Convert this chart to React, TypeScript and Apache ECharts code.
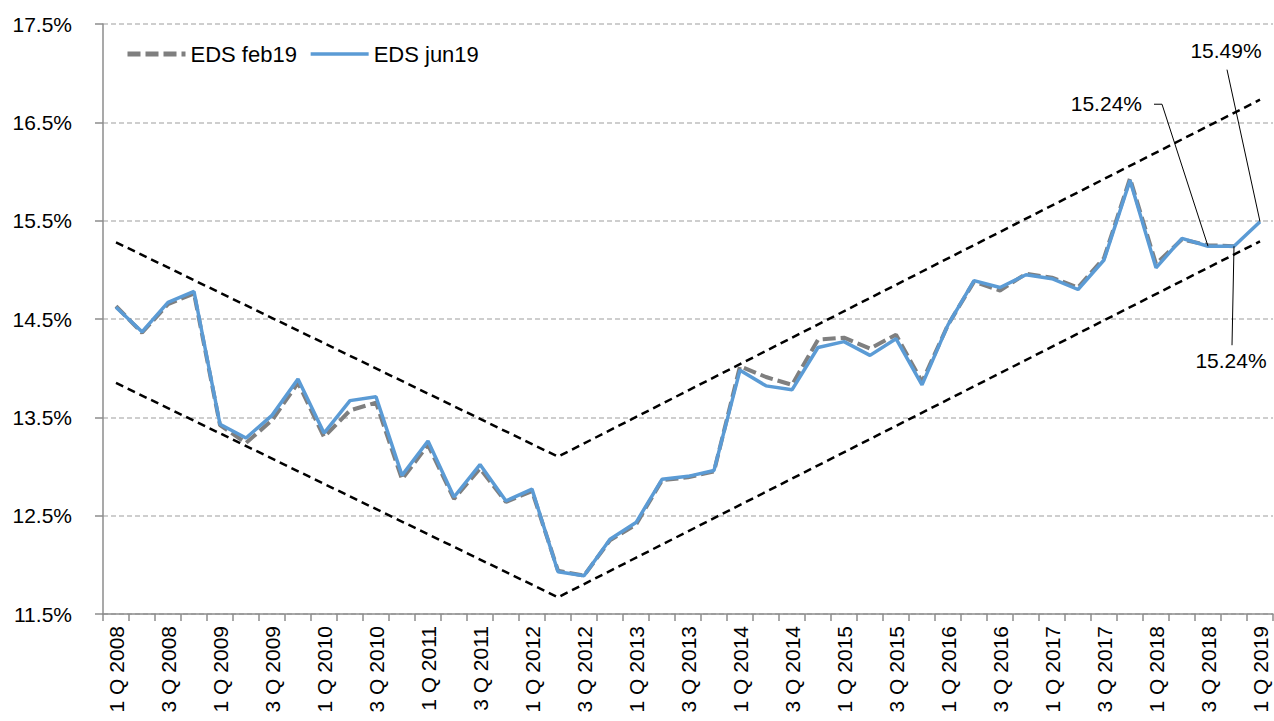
import React, { useEffect, useRef } from "react";
import * as echarts from "echarts";

const categories = [
  "1 Q 2008", "2 Q 2008", "3 Q 2008", "4 Q 2008",
  "1 Q 2009", "2 Q 2009", "3 Q 2009", "4 Q 2009",
  "1 Q 2010", "2 Q 2010", "3 Q 2010", "4 Q 2010",
  "1 Q 2011", "2 Q 2011", "3 Q 2011", "4 Q 2011",
  "1 Q 2012", "2 Q 2012", "3 Q 2012", "4 Q 2012",
  "1 Q 2013", "2 Q 2013", "3 Q 2013", "4 Q 2013",
  "1 Q 2014", "2 Q 2014", "3 Q 2014", "4 Q 2014",
  "1 Q 2015", "2 Q 2015", "3 Q 2015", "4 Q 2015",
  "1 Q 2016", "2 Q 2016", "3 Q 2016", "4 Q 2016",
  "1 Q 2017", "2 Q 2017", "3 Q 2017", "4 Q 2017",
  "1 Q 2018", "2 Q 2018", "3 Q 2018", "4 Q 2018",
  "1 Q 2019",
];

const edsFeb19 = [
  14.63, 14.36, 14.65, 14.76, 13.42, 13.24, 13.47, 13.85, 13.30, 13.57, 13.65,
  12.87, 13.22, 12.67, 12.98, 12.64, 12.75, 11.94, 11.89, 12.25, 12.41, 12.86,
  12.89, 12.95, 14.02, 13.91, 13.83, 14.29, 14.31, 14.20, 14.34, 13.86, 14.44,
  14.88, 14.79, 14.96, 14.92, 14.82, 15.12, 15.93, 15.06, 15.31, 15.25, 15.24,
];

const edsJun19 = [
  14.62, 14.37, 14.67, 14.78, 13.43, 13.29, 13.52, 13.89, 13.34, 13.67, 13.71,
  12.91, 13.26, 12.69, 13.02, 12.65, 12.77, 11.93, 11.89, 12.26, 12.43, 12.87,
  12.90, 12.96, 13.98, 13.82, 13.78, 14.21, 14.27, 14.13, 14.30, 13.83, 14.44,
  14.89, 14.82, 14.95, 14.91, 14.80, 15.10, 15.91, 15.02, 15.32, 15.24, 15.24,
  15.49,
];

// trend channel: [category index, value]
const upperTrend = [
  [0, 15.28],
  [17, 13.1],
  [44, 16.73],
];
const lowerTrend = [
  [0, 13.85],
  [17, 11.67],
  [44, 15.29],
];

const yTicks = { min: 11.5, max: 17.5, interval: 1 };

const annotations = [
  { index: 42, text: "15.24%" },
  { index: 43, text: "15.24%" },
  { index: 44, text: "15.49%" },
];

const FONT = "'Liberation Sans', Arial, sans-serif";
const FS = 21;

export default function App() {
  const ref = useRef<HTMLDivElement>(null);

  useEffect(() => {
    if (!ref.current) return;
    const chart = echarts.init(ref.current, undefined, { renderer: "svg" });
    const option: any = {
      animation: false,
      backgroundColor: "#ffffff",
      textStyle: { fontFamily: FONT },
      grid: { left: 103, right: 1, top: 24, bottom: 107, containLabel: false },
      legend: {
        data: [
          { name: "EDS feb19", lineStyle: { width: 5, type: [13, 5] } },
          { name: "EDS jun19", lineStyle: { width: 3.5 } },
        ],
        left: 120,
        top: 38,
        itemWidth: 58,
        itemHeight: 10,
        itemGap: 12,
        itemStyle: { opacity: 0 },
        textStyle: { fontSize: 22, color: "#000", fontFamily: FONT },
      },
      xAxis: {
        type: "category",
        data: categories,
        boundaryGap: true,
        axisLine: { lineStyle: { color: "#8c8c8c", width: 1.5 } },
        axisTick: {
          show: true,
          interval: 0,
          alignWithLabel: false,
          length: 7,
          lineStyle: { color: "#8c8c8c", width: 1.5 },
        },
        axisLabel: {
          interval: 1,
          rotate: 90,
          margin: 12,
          fontSize: FS,
          color: "#000",
          fontFamily: FONT,
        },
        splitLine: { show: false },
      },
      yAxis: {
        type: "value",
        min: yTicks.min,
        max: yTicks.max,
        interval: yTicks.interval,
        axisLine: { show: true, lineStyle: { color: "#8c8c8c", width: 1.5 } },
        axisTick: { show: true, length: 8, lineStyle: { color: "#8c8c8c", width: 1.5 } },
        axisLabel: {
          margin: 31,
          fontSize: FS,
          color: "#000",
          fontFamily: FONT,
          formatter: (v: number) => v.toFixed(1) + "%",
        },
        splitLine: {
          show: true,
          lineStyle: { color: "#bfbfbf", type: [5, 3], width: 1.5 },
        },
      },
      series: [
        {
          name: "EDS feb19",
          type: "line",
          data: edsFeb19,
          symbol: "none",
          z: 3,
          lineStyle: { color: "#7f7f7f", width: 4, type: [13, 5] },
          itemStyle: { color: "#7f7f7f" },
        },
        {
          name: "EDS jun19",
          type: "line",
          data: edsJun19,
          symbol: "none",
          z: 4,
          lineStyle: { color: "#5b9bd5", width: 3.5 },
          itemStyle: { color: "#5b9bd5" },
        },
        {
          name: "upper",
          type: "line",
          data: upperTrend,
          symbol: "none",
          z: 2,
          lineStyle: { color: "#000", width: 2.5, type: [8, 5] },
        },
        {
          name: "lower",
          type: "line",
          data: lowerTrend,
          symbol: "none",
          z: 2,
          lineStyle: { color: "#000", width: 2.5, type: [8, 5] },
        },
      ],
    };
    chart.setOption(option);

    const px = (i: number) =>
      chart.convertToPixel({ seriesIndex: 1 }, [i, edsJun19[i]]) as number[];
    const textStyle = (text: string, align: string) => ({
      text,
      fontSize: FS,
      fontFamily: FONT,
      fill: "#000",
      align,
      verticalAlign: "middle",
    });
    const lineSt = { stroke: "#000", lineWidth: 1 };
    const p42 = px(annotations[0].index);
    const p43 = px(annotations[1].index);
    const p44 = px(annotations[2].index);
    chart.setOption({
      graphic: [
        {
          type: "text",
          x: p42[0] - 66,
          y: p42[1] - 143,
          style: textStyle(annotations[0].text, "right"),
          z: 10,
        },
        {
          type: "polyline",
          shape: {
            points: [
              [p42[0] - 54, p42[1] - 142],
              [p42[0] - 46, p42[1] - 142],
              [p42[0], p42[1]],
            ],
          },
          style: { ...lineSt, fill: "none" },
          z: 10,
        },
        {
          type: "text",
          x: p43[0] - 3,
          y: p43[1] + 114,
          style: textStyle(annotations[1].text, "center"),
          z: 10,
        },
        {
          type: "line",
          shape: { x1: p43[0], y1: p43[1], x2: p43[0] - 2, y2: p43[1] + 99 },
          style: lineSt,
          z: 10,
        },
        {
          type: "text",
          x: p44[0] - 34,
          y: p44[1] - 171,
          style: textStyle(annotations[2].text, "center"),
          z: 10,
        },
        {
          type: "line",
          shape: { x1: p44[0] - 33, y1: p44[1] - 152, x2: p44[0], y2: p44[1] },
          style: lineSt,
          z: 10,
        },
      ],
    });

    return () => chart.dispose();
  }, []);

  return (
    <div
      ref={ref}
      style={{ position: "fixed", left: 0, top: 0, width: 1274, height: 721 }}
    />
  );
}
